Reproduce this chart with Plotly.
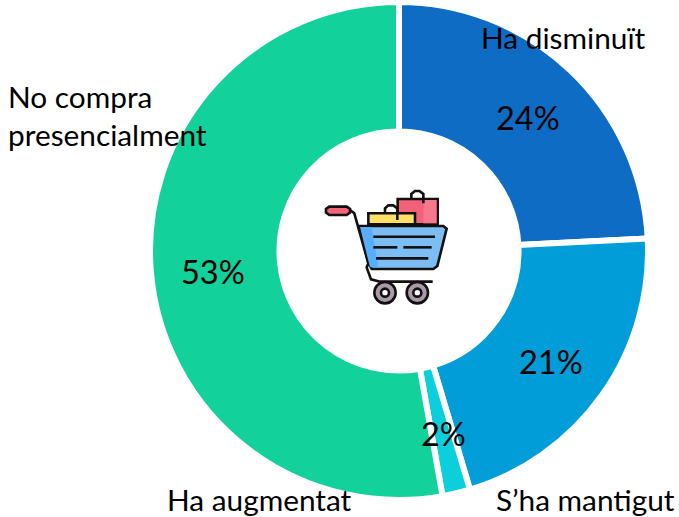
import plotly.graph_objects as go

labels = ["Ha disminuït", "S’ha mantigut", "Ha augmentat", "No compra presencialment"]
values = [24.2, 21.2, 1.8, 52.8]
texts = ["24%", "21%", "2%", "53%"]
colors = ["#0F6CC4", "#009DD9", "#0BCFDB", "#12D19A"]
W, H = 679, 517
FONT = "Lato"

fig = go.Figure(go.Pie(labels=labels, values=values, textinfo="none",
    hole=0.48, sort=False, direction="clockwise", rotation=0,
    marker=dict(colors=colors, line=dict(color="white", width=6)),
    domain=dict(x=[148/W, 650/W], y=[1-500/H, 1-2/H])))

def note(t, x, y, size, anchor="center"):
    fig.add_annotation(x=x/W, y=1-y/H, xref="paper", yref="paper", text=t, showarrow=False,
                       xanchor=anchor, yanchor="middle", align="left",
                       font=dict(family=FONT, size=size, color="black"))

PCT, LAB = 32.5, 29.8
for t, (x, y) in zip(texts, [(528, 117), (551, 361), (443, 433), (213, 271)]):
    note(t, x, y, PCT)
note("Ha disminuït", 563, 38, LAB)
note("No compra", 6, 97, LAB, "left")
note("presencialment", 6, 134, LAB, "left")
note("Ha augmentat", 259, 499, LAB)
note("S’ha mantigut", 585, 499, LAB)

# Shopping-cart icon (decoration, positions from the 3x crop at 300,180)
def px(x): return (300 + x/3)/W
def py(y): return 1 - (180 + y/3)/H
def path(pts, close=True):
    return "M" + " L".join(f"{px(x):.4f},{py(y):.4f}" for x, y in pts) + (" Z" if close else "")
def poly(pts, fill=None, lw=2.6, close=True):
    fig.add_shape(type="path", path=path(pts, close), xref="paper", yref="paper",
                  fillcolor=fill if fill else "rgba(0,0,0,0)",
                  line=dict(color="#111111" if lw else "rgba(0,0,0,0)", width=lw))
def ell(cx, cy, r, fill, lw=2.6):
    fig.add_shape(type="circle", xref="paper", yref="paper",
                  x0=px(cx-r), x1=px(cx+r), y0=py(cy+r), y1=py(cy-r),
                  fillcolor=fill, line=dict(color="#111111" if lw else "rgba(0,0,0,0)", width=lw))

# red bag
poly([(293,133),(293,57),(413,57),(413,133)], "#F2607A")
poly([(370,60),(410,60),(410,130),(370,130)], "#F7778C", 0)
poly([(334,57),(334,42),(345,33),(358,33),(370,42),(370,70)], None, close=False)
# yellow bag
poly([(205,133),(205,100),(345,100),(345,133)], "#FFE066")
poly([(255,100),(255,85),(265,76),(280,76),(292,85),(292,120)], None, close=False)
# frame
poly([(150,90),(163,100),(205,250),(200,262),(213,298),(240,305),(398,305)], None, close=False)
# basket
poly([(178,138),(430,138),(440,146),(412,258),(400,267),(215,267),(205,250)], "#7CBDF3")
poly([(180,141),(215,141),(235,262),(210,262)], "#57AEFF", 0)
for a, b, y in [(220,405,170),(220,292,202),(310,395,202),(228,385,235)]:
    poly([(a,y),(b,y)], None, close=False)
# handle
poly([(88,80),(140,80),(150,87),(150,98),(140,105),(88,105),(78,98),(78,87)], "#F0657A")
# wheels
for cx in (255, 352):
    ell(cx, 338, 32, "#A89BA5")
    ell(cx, 338, 12, "#FFFFFF")

fig.update_layout(width=W, height=H, margin=dict(l=0, r=0, t=0, b=0), showlegend=False,
                  paper_bgcolor="white")
fig.write_html("out.html", config={"displayModeBar": False},
               post_script="document.body.style.margin='0';")
